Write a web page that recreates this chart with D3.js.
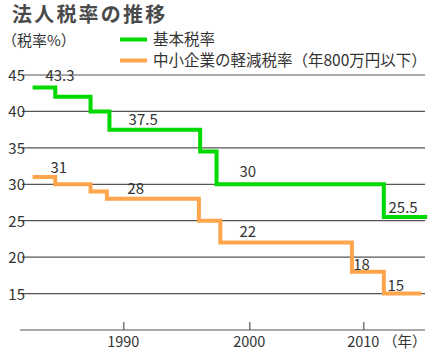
<!DOCTYPE html>
<html><head><meta charset="utf-8">
<script src="https://cdn.jsdelivr.net/npm/d3@7"></script>
<style>
html,body{margin:0;padding:0;background:#fff;}
svg{display:block;}
text{font-family:"Noto Sans CJK JP","Noto Sans",sans-serif;fill:#333;}
</style></head>
<body>
<svg id="chart" width="438" height="357"></svg>
<script>
// ---- data ----
const titleText = "法人税率の推移";
const yUnitLabel = "（税率%）";
const xUnitLabel = "（年）";
const seriesNames = ["基本税率", "中小企業の軽減税率（年800万円以下）"];
const basicYears = [1982.8, 1984.6, 1987.4, 1988.9, 1996.1, 1997.4, 2011.8, 2015.6];
const basicRates = [43.3, 42, 40, 37.5, 34.5, 30, 25.5, 25.5];
const smeYears = [1982.8, 1984.6, 1987.4, 1988.7, 1996.0, 1997.7, 2009.0, 2011.8, 2015.1];
const smeRates = [31, 30, 29, 28, 25, 22, 18, 15, 15];
const yTicks = [15, 20, 25, 30, 35, 40, 45];
const xTicks = [1990, 2000, 2010];
const basicLabelText = ["43.3", "37.5", "30", "25.5"];
const basicLabelYears = [1983.9, 1990.5, 1999.3, 2012.3];
const basicLabelLevels = [44.2, 38.1, 31.0, 26.0];
const smeLabelText = ["31", "28", "22", "18", "15"];
const smeLabelYears = [1984.3, 1990.4, 1999.3, 2009.2, 2012.2];
const smeLabelLevels = [31.6, 28.7, 22.7, 18.3, 15.3];

// ---- layout ----
const colors = ["#00D900", "#FFA54C"];
const svg = d3.select("#chart");
const gridLeft = 22, gridRight = 425;
const y = d3.scaleLinear().domain([10, 45]).range([330, 75]);
const x = d3.scaleLinear().domain(xTicks).range([123.3, 249.3, 363.3]);

// title
svg.append("text").attr("x", 12).attr("y", 22)
  .attr("font-size", 20).attr("font-weight", "bold").attr("letter-spacing", 2.2)
  .style("fill", "#4a4a4a").text(titleText);
svg.append("text").attr("x", 2).attr("y", 46).attr("font-size", 15).text(yUnitLabel);

// legend
seriesNames.forEach((n, i) => {
  const ly = 39.5 + i * 21;
  svg.append("line").attr("x1", 120).attr("x2", 147).attr("y1", ly).attr("y2", ly)
    .attr("stroke", colors[i]).attr("stroke-width", 4);
  svg.append("text").attr("x", 153).attr("y", ly).attr("dy", "0.36em")
    .attr("font-size", 15.5).text(n);
});

// gridlines
svg.append("g").selectAll("line").data(yTicks).join("line")
  .attr("x1", gridLeft).attr("x2", gridRight)
  .attr("y1", d => y(d)).attr("y2", d => y(d))
  .attr("stroke", "#555").attr("stroke-width", 1.2);
svg.append("g").selectAll("text").data(yTicks).join("text")
  .attr("x", 25).attr("y", d => y(d)).attr("dy", "0.4em")
  .attr("text-anchor", "end").attr("font-size", 15).text(d => d);

// x axis
const xAxis = d3.axisTop(x).tickValues(xTicks).tickSize(8).tickFormat("");
const gx = svg.append("g").attr("transform", `translate(0,${y(10)})`).call(xAxis);
gx.select(".domain").remove();
gx.selectAll(".tick line").attr("stroke", "#555").attr("stroke-width", 1.2);
svg.append("line").attr("x1", 20).attr("x2", gridRight).attr("y1", y(10)).attr("y2", y(10))
  .attr("stroke", "#555").attr("stroke-width", 1.2);
svg.append("g").selectAll("text").data(xTicks).join("text")
  .attr("x", d => x(d)).attr("y", 347).attr("text-anchor", "middle")
  .attr("font-size", 14.5).text(d => d);
svg.append("text").attr("x", 383).attr("y", 347).attr("font-size", 14.5).text(xUnitLabel);

// step lines
const line = d3.line().x(d => x(d[0])).y(d => y(d[1])).curve(d3.curveStepAfter);
[[basicYears, basicRates], [smeYears, smeRates]].forEach(([ys, vs], i) => {
  svg.append("path").datum(ys.map((yr, k) => [yr, vs[k]]))
    .attr("d", line).attr("fill", "none").attr("stroke", colors[i])
    .attr("stroke-width", 4).attr("stroke-linejoin", "miter");
});

// value labels
[[basicLabelText, basicLabelYears, basicLabelLevels], [smeLabelText, smeLabelYears, smeLabelLevels]]
  .forEach(([t, ys, ls]) => {
    svg.append("g").selectAll("text").data(t).join("text")
      .attr("x", (d, k) => x(ys[k]) - 1).attr("y", (d, k) => y(ls[k]))
      .attr("font-size", 15).text(d => d);
  });
</script>
</body></html>
